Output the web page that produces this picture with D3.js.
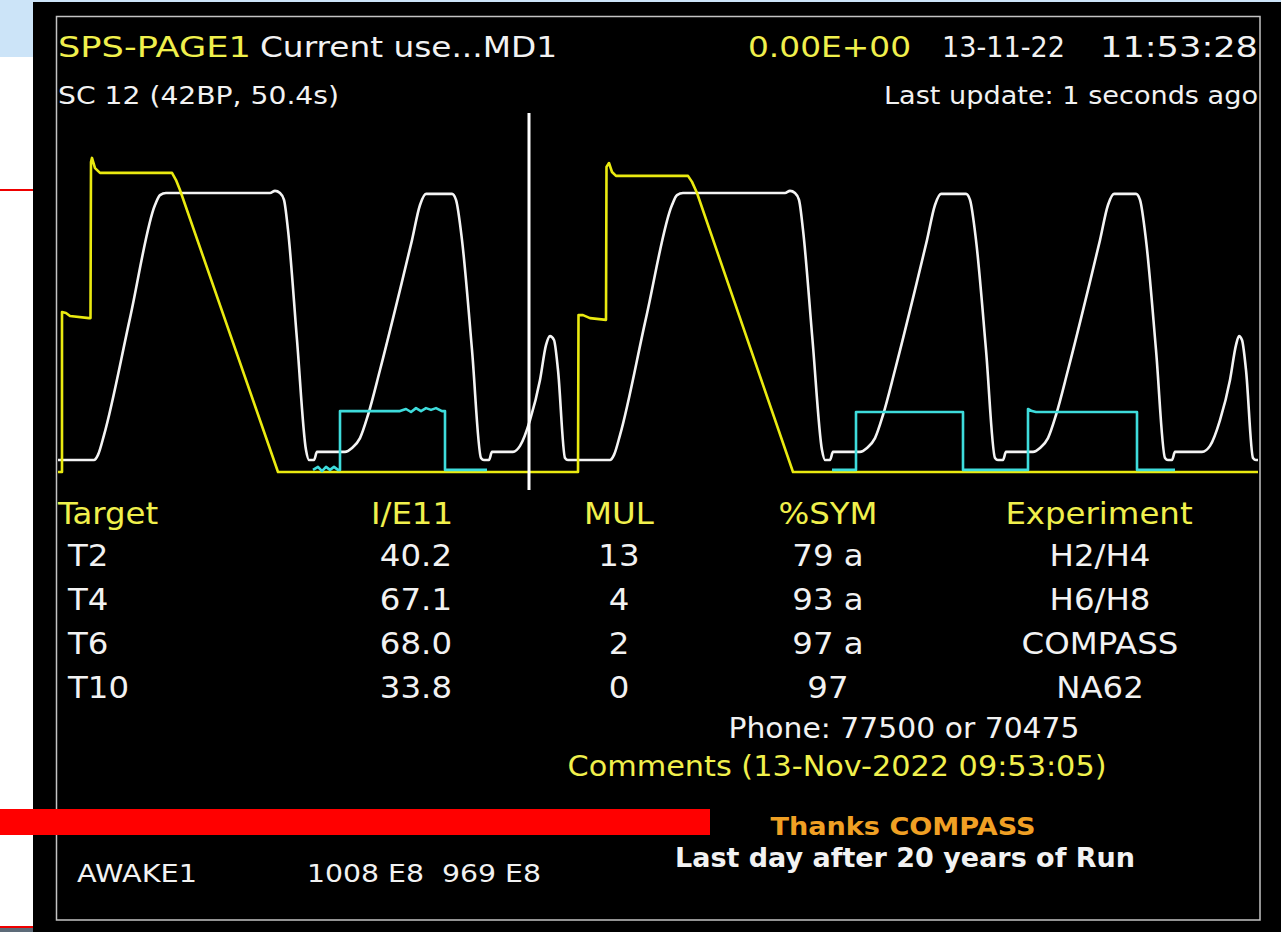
<!DOCTYPE html>
<html>
<head>
<meta charset="utf-8">
<script src="https://cdnjs.cloudflare.com/ajax/libs/d3/7.8.5/d3.min.js"></script>
<style>
  body { margin: 0; background: #fff; overflow: hidden; }
  svg { display: block; font-family: "DejaVu Sans", sans-serif; }
</style>
</head>
<body>
<svg id="page" width="1281" height="932"></svg>
<script>
// ---- values ----
var pageTitle = 'SPS-PAGE1';
var currentUser = 'Current use...MD1';
var intensityNow = '0.00E+00';
var dateStr = '13-11-22';
var timeStr = '11:53:28';
var superCycle = 'SC 12 (42BP, 50.4s)';
var lastUpdate = 'Last update: 1 seconds ago';

var tableHeaders = ['Target', 'I/E11', 'MUL', '%SYM', 'Experiment'];
var targets = ['T2', 'T4', 'T6', 'T10'];
var intensities = ['40.2', '67.1', '68.0', '33.8'];
var multiplicities = ['13', '4', '2', '0'];
var symmetries = ['79 a', '93 a', '97 a', '97'];
var experiments = ['H2/H4', 'H6/H8', 'COMPASS', 'NA62'];

var phoneLine = 'Phone: 77500 or 70475';
var commentsLine = 'Comments (13-Nov-2022 09:53:05)';
var thanksLine = 'Thanks COMPASS';
var lastDayLine = 'Last day after 20 years of Run';
var awakeName = 'AWAKE1';
var awakeValues = '1008 E8  969 E8';

// traces as [time, value]; null marks a gap
var yellowTrace = [
  [0, 0], [0.4, 0], [0.4, 53.3], [0.8, 53], [1.2, 52], [3.1, 51.3], [3.25, 51.3],
  [3.3, 103.3], [3.4, 104.7], [3.7, 101.3], [4.2, 99.7], [11.4, 99.7], [11.8, 97.3],
  [12.2, 94], [22, 0], [52, 0], [52.05, 52.3], [52.5, 52.3], [53.2, 51.3], [54.8, 50.7],
  [54.85, 101.7], [55.1, 103], [55.4, 100], [55.8, 98.7], [63, 98.7], [63.4, 96.7],
  [63.9, 93], [73.5, 0], [120, 0]
];

var whiteTrace = [
  [0, 4], [3.6, 4], [4.0, 5.7], [4.6, 12.3], [7.2, 51.3], [9.7, 89], [10.2, 92.3], [10.8, 93],
  [21.2, 93], [21.7, 93.7], [22.2, 93], [22.6, 90.7], [23.0, 80.7], [23.9, 44], [24.8, 7.3],
  [25.1, 4], [25.6, 4], [25.9, 6.7], [28.7, 6.7], [29.4, 8], [30.2, 11.3], [31.0, 19],
  [32.2, 34], [34.2, 60.7], [35.4, 77.3], [36.2, 89], [36.8, 92.7], [39.4, 92.7],
  [39.8, 90.7], [40.4, 77.3], [41.4, 40.7], [42.3, 4.7], [42.6, 4], [43.1, 4],
  [43.4, 6.7], [45.5, 6.7], [46.2, 8.7], [47.2, 17.3], [48.2, 30.7], [48.8, 42.3],
  [49.2, 45.3], [49.6, 44], [50.0, 34], [50.7, 4.7], [51.0, 4], [55.2, 4], [55.6, 5.7],
  [56.2, 12.3], [58.8, 51.3], [61.4, 89], [61.9, 92.3], [62.5, 93], [72.7, 93], [73.2, 93.7],
  [73.7, 93], [74.1, 90.7], [74.5, 80.7], [75.45, 44], [76.4, 7.3], [76.7, 4], [77.2, 4], [77.5, 6.7],
  [80.2, 6.7], [80.9, 8], [81.7, 11.3], [82.5, 19], [83.7, 34], [85.7, 60.7],
  [86.9, 77.3], [87.7, 89], [88.3, 92.7], [90.8, 92.7], [91.2, 90.7], [91.8, 77.3],
  [92.8, 40.7], [93.7, 4.7], [94.0, 4], [94.5, 4], [94.8, 6.7], [97.5, 6.7], [98.2, 8],
  [99.0, 11.3], [99.8, 19], [101.0, 34], [103.0, 60.7], [104.2, 77.3], [105.0, 89],
  [105.6, 92.7], [107.8, 92.7], [108.2, 90.7], [108.8, 77.3], [109.8, 40.7],
  [110.7, 4.7], [111.0, 4], [111.4, 4], [111.7, 6.7], [114.4, 6.7], [115.2, 8.7],
  [116.2, 17.3], [117.2, 30.7], [117.8, 42.3], [118.1, 45.3], [118.4, 44], [118.8, 34],
  [119.5, 4.7], [119.8, 4], [120, 4]
];

var cyanTrace = [
  [25.5, 0.7], [26, 1.7], [26.4, 0.3], [26.8, 1.7], [27.2, 0.7], [27.6, 1.7], [28, 0.7],
  [28.2, 0.7], [28.2, 20.3], [34.2, 20.3], [34.8, 21], [35.3, 20], [35.8, 21.3],
  [36.3, 20.3], [36.8, 21.3], [37.3, 20.7], [37.8, 21.3], [38.4, 20.3], [38.7, 20.3],
  [38.7, 0.7], [42.9, 0.7],
  null,
  [77.4, 0.7], [79.8, 0.7], [79.8, 20], [90.5, 20], [90.5, 0.7], [97, 0.7], [97, 21],
  [97.4, 20.3], [97.8, 20], [107.9, 20], [107.9, 0.7], [111.7, 0.7]
];

var cursorTime = 47.1;
var cursorSpan = [-6, 119.7];

// ---- drawing ----
var YELLOW = '#f0f04c';
var WHITE = '#f2f2f2';

var svg = d3.select('#page');

// surrounding page bits
svg.append('rect').attr('width', 1281).attr('height', 932).attr('fill', '#fff');
svg.append('rect').attr('width', 1281).attr('height', 3).attr('fill', '#cce4f8');
svg.append('rect').attr('width', 33).attr('height', 57).attr('fill', '#cce4f8');
svg.append('rect').attr('y', 189).attr('width', 33).attr('height', 2).attr('fill', '#e00');
svg.append('rect').attr('y', 926).attr('width', 33).attr('height', 2).attr('fill', '#e00');
svg.append('rect').attr('y', 928).attr('width', 33).attr('height', 4).attr('fill', '#5d6b78');

// the screen
svg.append('rect').attr('x', 33).attr('y', 2).attr('width', 1248).attr('height', 930).attr('fill', '#000');
svg.append('rect')
  .attr('x', 56.5).attr('y', 16.5).attr('width', 1203.5).attr('height', 903.5)
  .attr('fill', 'none').attr('stroke', '#c4c4c4').attr('stroke-width', 1.5);

function label(x, y, str, opts) {
  var t = svg.append('text')
    .attr('x', x).attr('y', y)
    .attr('fill', opts.fill || WHITE)
    .attr('font-size', opts.size)
    .attr('text-anchor', opts.anchor || 'start')
    .style('white-space', 'pre')
    .text(str);
  if (opts.weight) t.attr('font-weight', opts.weight);
  if (opts.width) {
    t.attr('textLength', opts.width).attr('lengthAdjust', 'spacingAndGlyphs');
  } else if (opts.stretch) {
    var w = t.node().getComputedTextLength();
    t.attr('textLength', w * opts.stretch).attr('lengthAdjust', 'spacingAndGlyphs');
  }
  return t;
}

// header
label(58, 57, pageTitle, { size: 29, fill: YELLOW, width: 193 });
label(260, 57, currentUser, { size: 29, width: 297 });
label(748, 57, intensityNow, { size: 29, fill: YELLOW, width: 163 });
label(942, 57, dateStr, { size: 29, width: 123 });
label(1100, 57, timeStr, { size: 29, width: 158 });
label(58, 104, superCycle, { size: 24, width: 281 });
label(1258, 104, lastUpdate, { size: 24, anchor: 'end', width: 374 });

// traces
var x = d3.scaleLinear().domain([0, 120]).range([58, 1258]);
var y = d3.scaleLinear().domain([0, 100]).range([472, 172]);

var straight = d3.line()
  .defined(function(d) { return d !== null; })
  .x(function(d) { return x(d[0]); })
  .y(function(d) { return y(d[1]); });

var smooth = d3.line()
  .x(function(d) { return x(d[0]); })
  .y(function(d) { return y(d[1]); })
  .curve(d3.curveMonotoneX);

var traces = svg.append('g').attr('fill', 'none')
  .attr('stroke-width', 2.6).attr('stroke-linejoin', 'round');

traces.append('path').datum(whiteTrace).attr('d', smooth).attr('stroke', '#f4f4f4');
traces.append('path').datum(yellowTrace).attr('d', straight).attr('stroke', '#eaea10');
traces.append('path').datum(cyanTrace).attr('d', straight).attr('stroke', '#3edcdc');

svg.append('line')
  .attr('x1', x(cursorTime)).attr('x2', x(cursorTime))
  .attr('y1', y(cursorSpan[1])).attr('y2', y(cursorSpan[0]))
  .attr('stroke', '#fff').attr('stroke-width', 3);

// target table
var columns = [
  { values: targets, x: 68, anchor: 'start', hx: 58, hAnchor: 'start' },
  { values: intensities, x: 452, anchor: 'end', hx: 412, hAnchor: 'middle' },
  { values: multiplicities, x: 619, anchor: 'middle', hx: 619, hAnchor: 'middle' },
  { values: symmetries, x: 828, anchor: 'middle', hx: 828, hAnchor: 'middle' },
  { values: experiments, x: 1100, anchor: 'middle', hx: 1099, hAnchor: 'middle' }
];
var rowY = [566, 610, 654, 698];
var tableStretch = 1.08;

columns.forEach(function(col, i) {
  label(col.hx, 524, tableHeaders[i], { size: 30, fill: YELLOW, anchor: col.hAnchor, stretch: tableStretch });
  col.values.forEach(function(v, j) {
    label(col.x, rowY[j], v, { size: 30, anchor: col.anchor, stretch: tableStretch });
  });
});

label(904, 738, phoneLine, { size: 28, anchor: 'middle', width: 351 });
label(837, 776, commentsLine, { size: 28, anchor: 'middle', fill: YELLOW, width: 539 });

// red strip across the lower frame
svg.append('rect').attr('y', 809).attr('width', 710).attr('height', 26).attr('fill', '#ff0000');

label(903, 835, thanksLine, { size: 25, weight: 'bold', anchor: 'middle', fill: '#f0a024', width: 265 });
label(905, 867, lastDayLine, { size: 26, weight: 'bold', anchor: 'middle', width: 460 });

label(77, 882, awakeName, { size: 25, width: 120 });
label(307, 882, awakeValues, { size: 25, width: 234 });
</script>
</body>
</html>
